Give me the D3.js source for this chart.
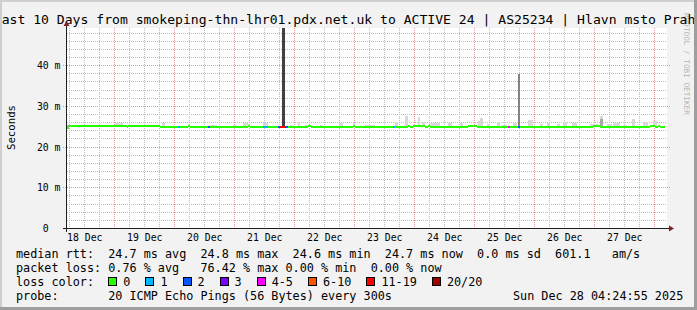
<!DOCTYPE html>
<html><head><meta charset="utf-8">
<script src="https://cdn.jsdelivr.net/npm/d3@7"></script>
<style>
body{margin:0;background:#f2f2f2}
svg{display:block}
text{font-family:"DejaVu Sans Mono",monospace;white-space:pre}
</style>
</head><body>
<svg id="c" width="697" height="310"></svg>
<script>
// ---------------- data ----------------
const title = "Last 10 Days from smokeping-thn-lhr01.pdx.net.uk to ACTIVE 24 | AS25234 | Hlavn msto Praha";
const yAxisTitle = "Seconds";
const watermark = "RRDTOOL / TOBI OETIKER";
// time in hours relative to 18 Dec 2025 00:00
const windowFromH = -6.92;
const windowHours = 240;
const dayLabels = ["18 Dec","19 Dec","20 Dec","21 Dec","22 Dec","23 Dec","24 Dec","25 Dec","26 Dec","27 Dec"];
const yTicksMs = [0, 10, 20, 30, 40];
const yMaxMs = 49.14;

// median rtt (ms), step runs: start hour -> value
const medianFrom = [-6.92,-6.12,16.96,17.48,30.28,41.36,42.28,65.36,66.28,89.48,90.56,107.36,108.28,129.36,130.28,131.6,136.28,137.6,138.28,153.48,156.96,203.48,206.28,226.28,228.28,229.48,230.28];
const medianMs   = [24.6,24.95,24.7,24.95,24.7,24.95,24.7,24.95,24.7,24.95,24.7,24.95,24.7,24.95,24.7,24.95,24.7,24.95,24.7,24.95,24.7,24.95,24.7,24.95,24.7,24.95,24.7];
const medianUntil = 232.28;

// packet loss events: [from hour, to hour, lost pings of 20]
const lossFrom  = [37.6, 49.6, 71.6, 77.36, 78.28, 80.56, 123.6, 169.6, 173.36];
const lossTo    = [38.4, 50.4, 73.36, 78.28, 80.56, 81.36, 124.4, 170.4, 174.28];
const lossPings = [1, 2, 1, 2, 15, 2, 1, 4, 2];

// smoke (upper ping spread): [from hour, to hour, top ms]
const smoke = [
 [-5.72,-3.72,25.3],[2.28,3.48,25.3],[12.28,15.48,25.9],[30.96,32.28,25.9],[50.28,53.08,25.3],
 [59.48,61.08,25.3],[63.36,65.48,25.8],[71.6,73.48,25.7],[82.28,83.48,25.4],[85.36,86.28,26.0],
 [88.28,89.48,25.4],[94.28,95.48,25.3],[101.88,103.48,25.7],[107.6,108.28,25.8],[112.28,116.28,25.3],
 [124.28,125.48,26.0],[128.28,129.6,27.6],[133.36,134.28,27.35],[134.96,136.28,26.05],[138.28,142.28,25.7],
 [145.48,147.08,25.7],[150.28,151.48,25.7],[157.6,158.28,26.3],[158.28,159.48,26.95],[160.96,162.28,25.55],
 [165.08,166.28,26.1],[166.96,169.08,25.4],[171.6,173.08,25.9],[177.48,179.48,26.5],[182.28,183.48,25.55],
 [184.96,186.28,25.7],[188.96,190.28,25.55],[191.6,193.08,26.05],[195.08,197.08,25.8],[202.28,205.48,25.55],
 [206.28,207.48,27.5],[209.08,211.08,25.55],[211.48,214.28,25.8],[215.48,217.08,25.3],[219.08,220.28,26.8],
 [223.48,225.48,26.0],[227.48,229.08,26.35]
];
// denser inner smoke: [from hour, to hour, top ms]
const smokeInner = [[206.28,207.48,26.8],[-6.92,-6.12,25.3]];
// outlier spikes: [from hour, to hour, top ms, pings at that level]
const spikes = [[79.2,80.28,60,9],[173.36,174.28,37.8,2]];

// legend
const rttStats = ["24.7","24.8","24.6","24.7"];
const rttSd = "0.0";
const amS = "601.1";
const lossStats = ["0.76","76.42","0.00","0.00"];
const lossLabels = ["0","1","2","3","4-5","6-10","11-19","20/20"];
const lossColors = ["#26ff00","#00b8ff","#0059ff","#7e00ff","#ff00ff","#ff5500","#ff0000","#a10000"];
const lossThresholds = [1,2,3,4,6,11,20];
const probeText = "20 ICMP Echo Pings (56 Bytes) every 300s";
const stamp = "Sun Dec 28 04:24:55 2025";

// ---------------- drawing ----------------
const svg = d3.select("#c");
const W = 697, H = 310;
const L = 67, R = 667, T = 28, B = 228;
const HOUR = 3600e3;
const base = Date.UTC(2025, 11, 18);
const toDate = h => new Date(base + h * HOUR);

const x = d3.scaleUtc().domain([toDate(windowFromH), toDate(windowFromH + windowHours)]).range([L, R]);
const y = d3.scaleLinear().domain([0, yMaxMs]).range([B, T]);
const lossColor = d3.scaleThreshold().domain(lossThresholds).range(lossColors);
const spikeShade = d3.scaleLinear().domain([1, 10]).range(["#8c8c8c", "#383838"]);
const xh = h => x(toDate(h));

svg.append("rect").attr("width", W).attr("height", H).attr("fill", "#f2f2f2");

// title (drawn before frame so it is clipped by it)
svg.append("text").attr("x", 348.5).attr("y", 23.5).attr("text-anchor", "middle")
  .attr("font-size", "13.1px").attr("fill", "#000").text(title);

// canvas
svg.append("rect").attr("x", L).attr("y", T).attr("width", R - L).attr("height", B - T).attr("fill", "#fff");

const grid = svg.append("g");
// horizontal grid
const minorY = d3.range(2, yMaxMs, 2).filter(v => v % 10 !== 0);
const majorY = d3.range(10, yMaxMs, 10);
grid.selectAll(".hmin").data(minorY).join("line")
  .attr("x1", L).attr("x2", R).attr("y1", d => Math.round(y(d)) + 0.5).attr("y2", d => Math.round(y(d)) + 0.5)
  .attr("stroke", "#bdbdbd").attr("stroke-dasharray", "1,1");
grid.selectAll(".hmaj").data(majorY).join("line")
  .attr("x1", L - 4).attr("x2", R + 3).attr("y1", d => Math.round(y(d)) + 0.5).attr("y2", d => Math.round(y(d)) + 0.5)
  .attr("stroke", "#ee9494").attr("stroke-dasharray", "1,1");
// vertical grid
const hours6 = d3.utcHour.every(6).range(x.domain()[0], x.domain()[1]);
const minorX = hours6.filter(d => d.getUTCHours() !== 12);
const majorX = hours6.filter(d => d.getUTCHours() === 12);
grid.selectAll(".vmin").data(minorX).join("line")
  .attr("x1", d => Math.round(x(d)) + 0.5).attr("x2", d => Math.round(x(d)) + 0.5).attr("y1", T).attr("y2", B)
  .attr("stroke", "#bdbdbd").attr("stroke-dasharray", "1,1");
grid.selectAll(".vmaj").data(majorX).join("line")
  .attr("x1", d => Math.round(x(d)) + 0.5).attr("x2", d => Math.round(x(d)) + 0.5).attr("y1", T).attr("y2", B)
  .attr("stroke", "#ee9494").attr("stroke-dasharray", "1,1");

// data clip
svg.append("clipPath").attr("id", "pc").append("rect").attr("x", L).attr("y", T).attr("width", R - L).attr("height", B - T);
const plot = svg.append("g").attr("clip-path", "url(#pc)");

const medAt = h => {
  const i = Math.max(0, d3.bisectRight(medianFrom, h) - 1);
  return medianMs[i];
};

// smoke
plot.selectAll(".smoke").data(smoke).join("rect")
  .attr("x", d => Math.round(xh(d[0]))).attr("width", d => Math.max(1, Math.round(xh(d[1])) - Math.round(xh(d[0]))))
  .attr("y", d => Math.round(y(d[2])))
  .attr("height", d => Math.round(y(medAt(d[0]))) - Math.round(y(d[2])))
  .attr("fill", "#d8d8d8");
plot.selectAll(".smokei").data(smokeInner).join("rect")
  .attr("x", d => Math.round(xh(d[0]))).attr("width", d => Math.max(1, Math.round(xh(d[1])) - Math.round(xh(d[0]))))
  .attr("y", d => Math.round(y(d[2])))
  .attr("height", d => Math.round(y(medAt(d[0]))) - Math.round(y(d[2])))
  .attr("fill", "#a8a8a8");
// spikes
plot.selectAll(".spike").data(spikes).join("rect")
  .attr("x", d => Math.round(xh(d[0]))).attr("width", d => Math.max(1, Math.round(xh(d[1])) - Math.round(xh(d[0]))))
  .attr("y", d => Math.round(y(Math.min(d[2], yMaxMs))))
  .attr("height", d => Math.round(y(medAt(d[0]))) - Math.round(y(Math.min(d[2], yMaxMs))))
  .attr("fill", d => spikeShade(d[3]));

// median band (loss 0)
const runs = medianFrom.map((h, i) => ({from: h, to: i + 1 < medianFrom.length ? medianFrom[i + 1] : medianUntil, v: medianMs[i]}));
plot.selectAll(".med").data(runs).join("rect")
  .attr("x", d => Math.round(xh(d.from))).attr("width", d => Math.round(xh(d.to)) - Math.round(xh(d.from)))
  .attr("y", d => Math.round(y(d.v)) - 1).attr("height", 2)
  .attr("fill", lossColor(0));
// loss-coloured median parts
const lossEv = lossFrom.map((h, i) => ({from: h, to: lossTo[i], n: lossPings[i]}));
plot.selectAll(".loss").data(lossEv).join("rect")
  .attr("x", d => Math.round(xh(d.from))).attr("width", d => Math.max(1, Math.round(xh(d.to)) - Math.round(xh(d.from))))
  .attr("y", d => Math.round(y(medAt(d.from))) - 1).attr("height", 2)
  .attr("fill", d => lossColor(d.n));

// axes lines & arrows
svg.append("line").attr("x1", L - 4).attr("x2", R + 4).attr("y1", B + 0.5).attr("y2", B + 0.5).attr("stroke", "#1f1f1f");
svg.append("line").attr("x1", L - 0.5).attr("x2", L - 0.5).attr("y1", B + 4).attr("y2", T - 4).attr("stroke", "#1f1f1f");
svg.append("path").attr("d", `M${R + 2},${B - 2.5}L${R + 2},${B + 3.5}L${R + 7},${B + 0.5}Z`).attr("fill", "#801f1f");
svg.append("path").attr("d", `M${L - 3.5},${T - 2}L${L + 2.5},${T - 2}L${L - 0.5},${T - 7}Z`).attr("fill", "#801f1f");

// x axis labels
const days = d3.utcDay.range(toDate(0), toDate(windowFromH + windowHours));
const xAxis = svg.append("g").attr("transform", `translate(0,${B})`)
  .call(d3.axisBottom(x).tickValues(days).tickSize(0).tickFormat((d, i) => dayLabels[i]));
xAxis.select(".domain").remove();
xAxis.selectAll("text").attr("y", 13).attr("dy", 0).attr("font-size", "9.8px")
  .attr("font-family", "DejaVu Sans Mono").attr("fill", "#000");

// y axis labels
const yAxis = svg.append("g").attr("transform", `translate(${L},0)`)
  .call(d3.axisLeft(y).tickValues(yTicksMs).tickSize(0).tickFormat(d => d === 0 ? "0  " : d + " m"));
yAxis.select(".domain").remove();
yAxis.selectAll("text").attr("x", -6.5).attr("dy", "0.36em").attr("font-size", "9.8px")
  .attr("font-family", "DejaVu Sans Mono").attr("fill", "#000").style("white-space", "pre");

// y title
svg.append("text").attr("transform", "translate(15,127.5) rotate(-90)").attr("text-anchor", "middle")
  .attr("font-size", "10.7px").attr("fill", "#000").text(yAxisTitle);

// watermark
svg.append("text").attr("transform", "translate(683.5,13) rotate(90)").attr("text-anchor", "start")
  .attr("font-size", "7.7px").attr("fill", "rgba(0,0,0,0.3)").text(watermark);

// legend
const CW = 7.1, LX = 16;
const lf = "11.79px";
const line1 = `median rtt:  ${rttStats[0]} ms avg  ${rttStats[1]} ms max  ${rttStats[2]} ms min  ${rttStats[3]} ms now  ${rttSd} ms sd  ${amS}   am/s`;
const line2 = `packet loss: ${lossStats[0]} % avg   ${lossStats[1]} % max ${lossStats[2]} % min  ${lossStats[3]} % now`;
const line4 = `probe:       ${probeText}`;
[[line1, 258], [line2, 272], ["loss color:", 286], [line4, 300]].forEach(([t, yy]) => {
  svg.append("text").attr("x", LX).attr("y", yy).attr("font-size", lf).attr("fill", "#000").text(t);
});
svg.append("text").attr("x", LX + 70 * CW).attr("y", 300).attr("font-size", lf).attr("fill", "#000").text(stamp);

let bx = LX + 13 * CW;
const items = lossLabels.map((lab, i) => {
  const it = {lab, col: lossColors[i], x: bx};
  bx += 30 + lab.length * CW;
  return it;
});
const lg = svg.append("g");
lg.selectAll("rect").data(items).join("rect")
  .attr("x", d => Math.round(d.x) + 0.5).attr("y", 277.5).attr("width", 8).attr("height", 8)
  .attr("fill", d => d.col).attr("stroke", "#000");
lg.selectAll("text").data(items).join("text")
  .attr("x", d => d.x + 15).attr("y", 286).attr("font-size", lf).attr("fill", "#000").text(d => d.lab);

// frame shading
svg.append("rect").attr("x", 0).attr("y", 0).attr("width", W).attr("height", 2).attr("fill", "#cfcfcf");
svg.append("rect").attr("x", 0).attr("y", 0).attr("width", 2).attr("height", H).attr("fill", "#cfcfcf");
svg.append("rect").attr("x", W - 3).attr("y", 0).attr("width", 3).attr("height", H).attr("fill", "#9e9e9e");
svg.append("rect").attr("x", 0).attr("y", H - 3).attr("width", W).attr("height", 3).attr("fill", "#9e9e9e");
</script>
</body></html>
